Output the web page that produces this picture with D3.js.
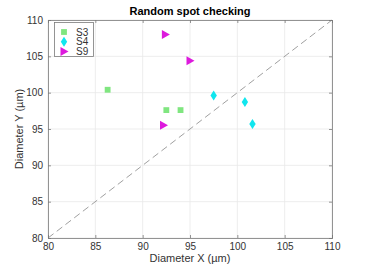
<!DOCTYPE html>
<html><head><meta charset="utf-8">
<script src="https://cdn.jsdelivr.net/npm/d3@7"></script>
<style>body{margin:0;background:#fff;}svg{display:block;font-family:"Liberation Sans",Arial,sans-serif;}</style>
</head><body>
<script>
const xTicks=[80,85,90,95,100,105,110];
const yTicks=[80,85,90,95,100,105,110];
const seriesNames=["S3","S4","S9"];
const s3X=[86.3,92.5,94.0];
const s3Y=[100.4,97.6,97.6];
const s4X=[97.5,100.8,101.6];
const s4Y=[99.6,98.7,95.7];
const s9X=[92.4,92.2,95.0];
const s9Y=[108.0,95.5,104.4];
const colors={S3:"#80e680",S4:"#10e6ee",S9:"#dd1add"};
const W=368,H=268;
const L=48,R=332,T=20,B=238;
const svg=d3.select("body").append("svg").attr("width",W).attr("height",H);
const x=d3.scaleLinear().domain([80,110]).range([L,R]);
const y=d3.scaleLinear().domain([80,110]).range([B,T]);
// grid
svg.append("g").selectAll("line.gx").data(xTicks).join("line")
 .attr("x1",d=>x(d)).attr("x2",d=>x(d)).attr("y1",T).attr("y2",B)
 .attr("stroke","#e8e8e8").attr("stroke-width",0.8);
svg.append("g").selectAll("line.gy").data(yTicks).join("line")
 .attr("y1",d=>y(d)).attr("y2",d=>y(d)).attr("x1",L).attr("x2",R)
 .attr("stroke","#e8e8e8").attr("stroke-width",0.8);
// diagonal
svg.append("line").attr("x1",x(80)).attr("y1",y(80)).attr("x2",x(110)).attr("y2",y(110))
 .attr("stroke","#a0a0a0").attr("stroke-width",1).attr("stroke-dasharray","7,4");
// axes
const ax=svg.append("g").attr("transform",`translate(0,${B})`).call(d3.axisBottom(x).tickValues(xTicks).tickSize(-3).tickPadding(5));
const ay=svg.append("g").attr("transform",`translate(${L},0)`).call(d3.axisLeft(y).tickValues(yTicks).tickSize(-3).tickPadding(5));
const at=svg.append("g").attr("transform",`translate(0,${T})`).call(d3.axisTop(x).tickValues(xTicks).tickSize(-3).tickFormat(""));
const ar=svg.append("g").attr("transform",`translate(${R},0)`).call(d3.axisRight(y).tickValues(yTicks).tickSize(-3).tickFormat(""));
[ax,ay,at,ar].forEach(g=>{g.selectAll("path,line").attr("stroke","#7a7a7a").attr("stroke-width",0.8);
 g.selectAll("text").attr("fill","#333").style("font-size","10px").style("font-family","Liberation Sans, Arial, sans-serif");});
// markers
const sq=d3.symbol().type(d3.symbolSquare).size(34);
const diamond="M0,-5L3.2,0L0,5L-3.2,0Z";
const tri="M-3.5,-4.5L4.5,0L-3.5,4.5Z";
const g=svg.append("g");
g.selectAll("path.s3").data(d3.range(s3X.length)).join("path")
 .attr("d",sq).attr("transform",i=>`translate(${x(s3X[i])},${y(s3Y[i])})`).attr("fill",colors.S3);
g.selectAll("path.s4").data(d3.range(s4X.length)).join("path")
 .attr("d",diamond).attr("transform",i=>`translate(${x(s4X[i])},${y(s4Y[i])})`).attr("fill",colors.S4);
g.selectAll("path.s9").data(d3.range(s9X.length)).join("path")
 .attr("d",tri).attr("transform",i=>`translate(${x(s9X[i])},${y(s9Y[i])})`).attr("fill",colors.S9);
// legend
const lg=svg.append("g");
lg.append("rect").attr("x",54.5).attr("y",22.5).attr("width",39).attr("height",34)
 .attr("fill","#fff").attr("stroke","#7a7a7a").attr("stroke-width",0.8);
const shapes={S3:sq(),S4:diamond,S9:tri};
seriesNames.forEach((n,i)=>{
 const yy=32+i*9.7;
 lg.append("path").attr("d",shapes[n]).attr("transform",`translate(64,${yy})`).attr("fill",colors[n]);
 lg.append("text").attr("x",76).attr("y",yy+3.5).text(n).attr("fill","#333").style("font-size","10px");
});
// title and labels
svg.append("text").attr("x",190).attr("y",15).attr("text-anchor","middle").style("font-weight","bold").style("font-size","11px").attr("fill","#000").text("Random spot checking");
svg.append("text").attr("x",190).attr("y",262).attr("text-anchor","middle").style("font-size","11px").attr("fill","#333").text("Diameter X (µm)");
svg.append("text").attr("transform",`translate(23,${(T+B)/2}) rotate(-90)`).attr("text-anchor","middle").style("font-size","11px").attr("fill","#333").text("Diameter Y (µm)");
</script>
</body></html>
